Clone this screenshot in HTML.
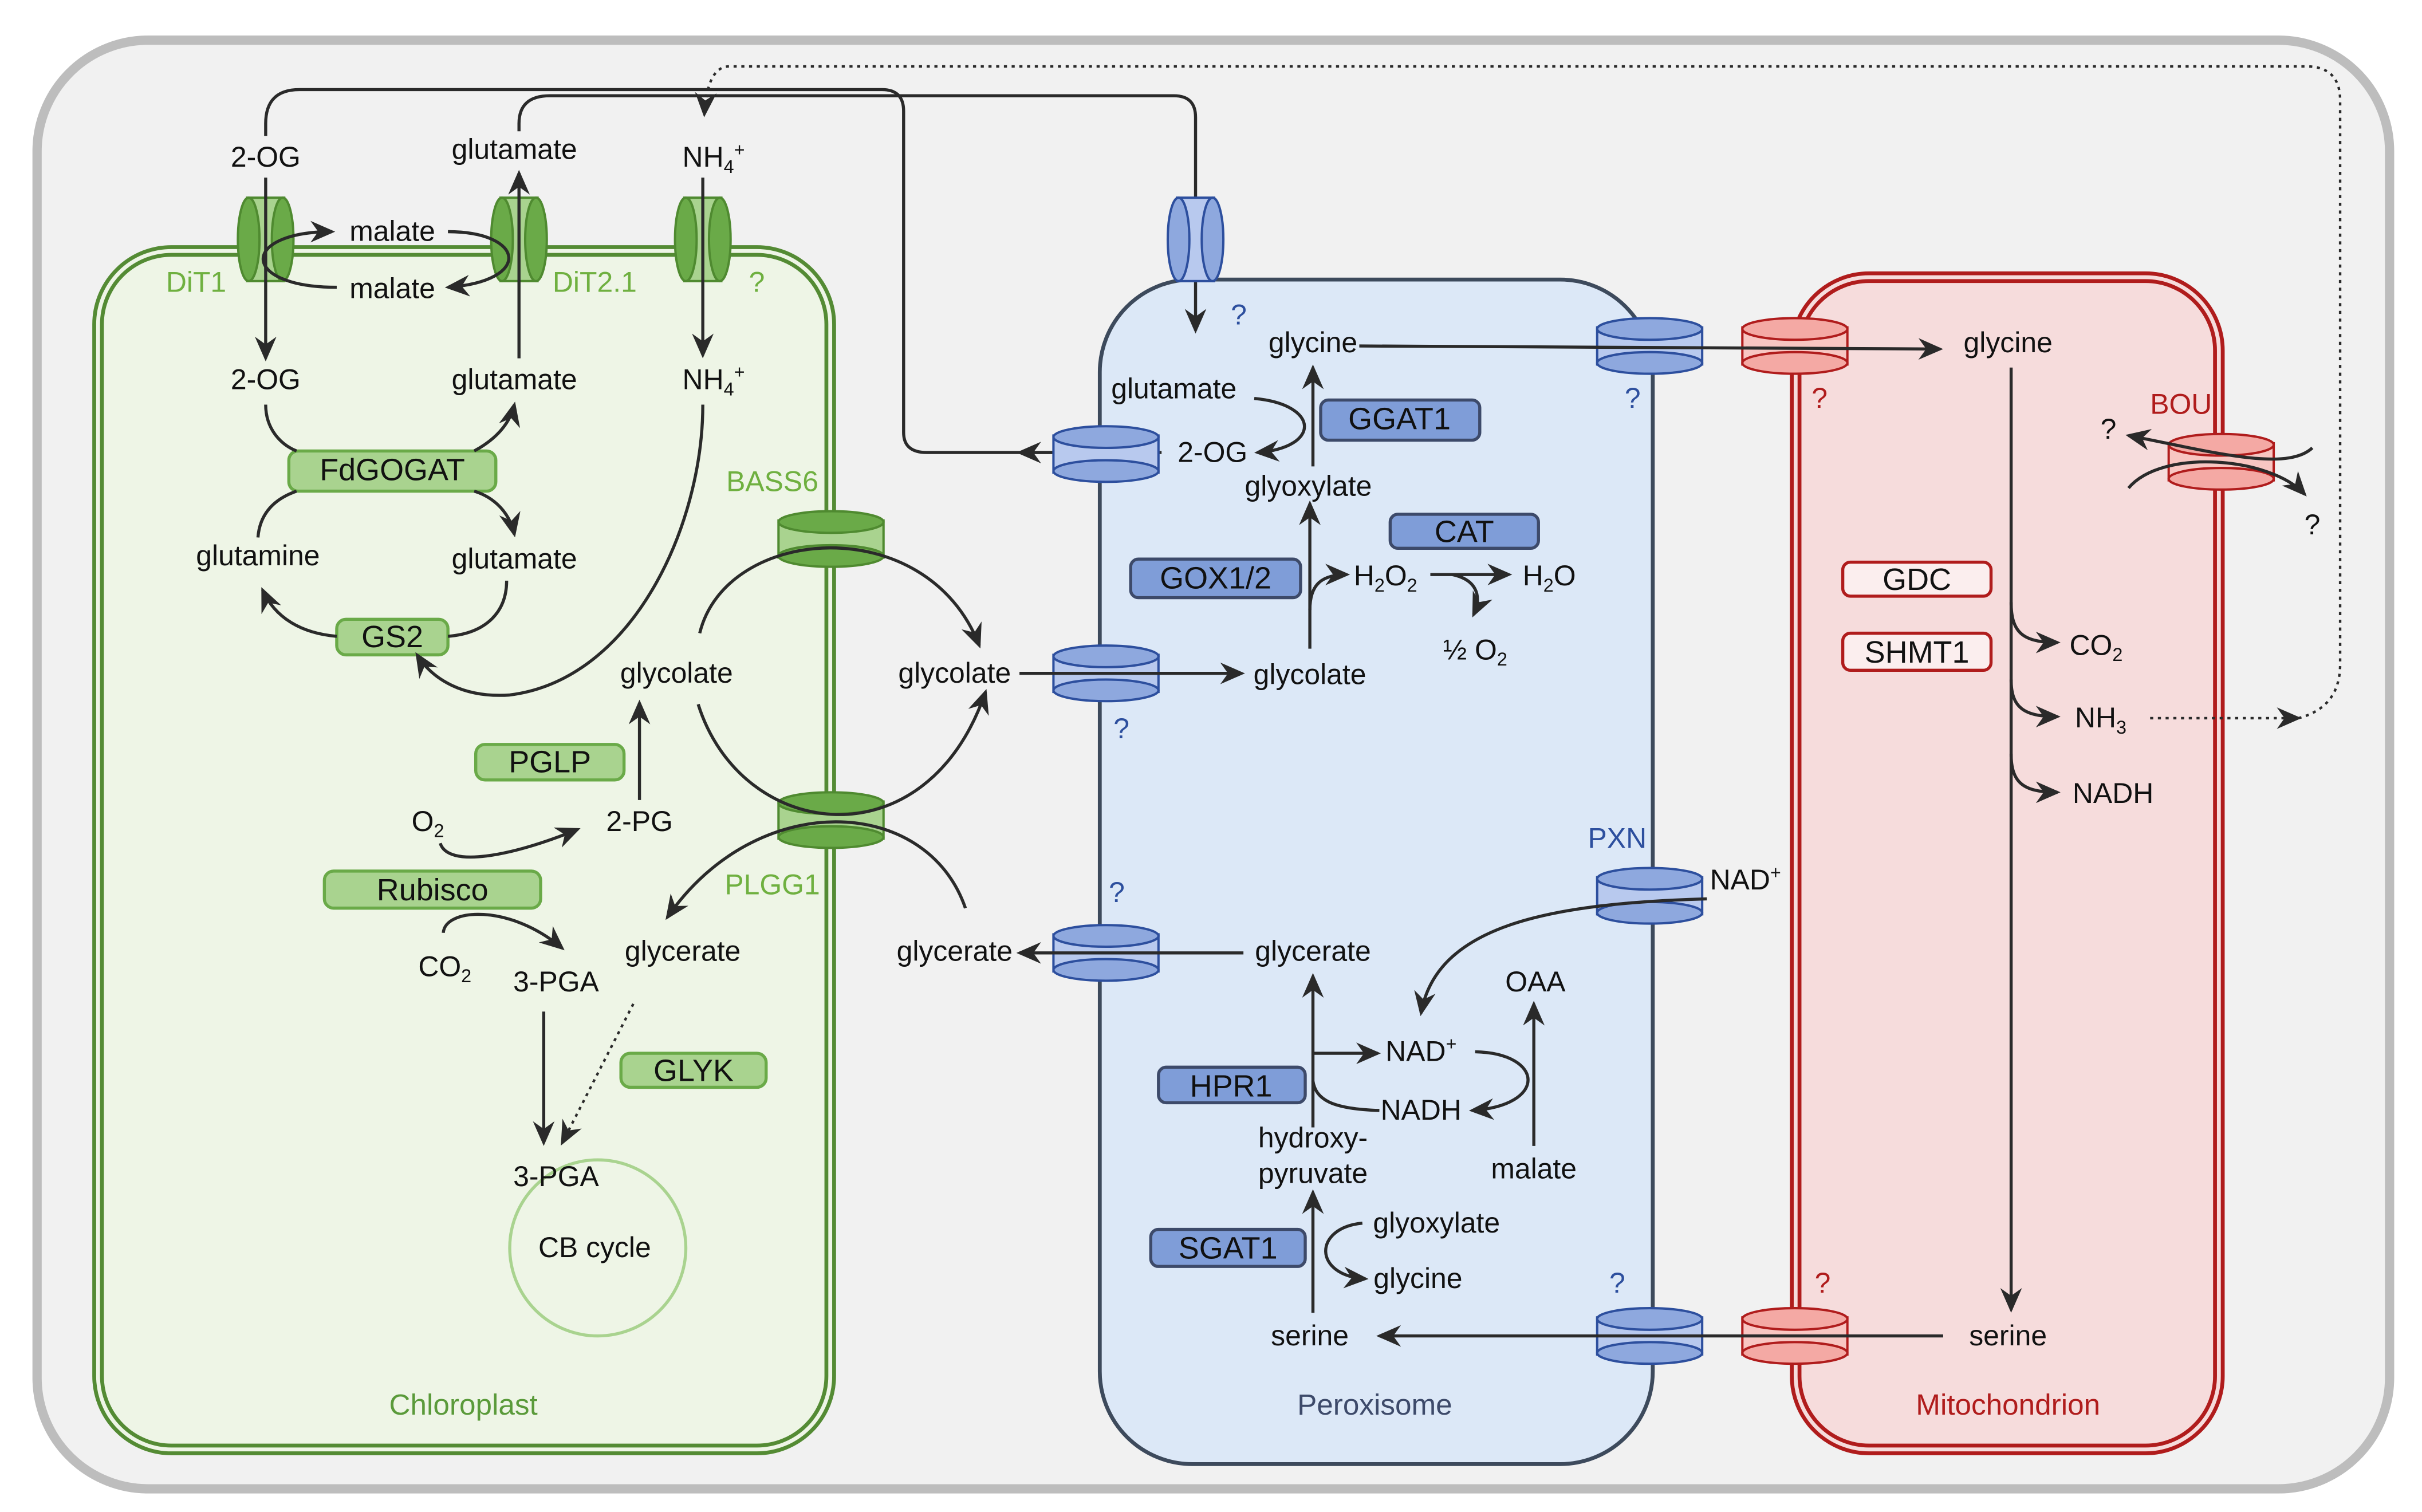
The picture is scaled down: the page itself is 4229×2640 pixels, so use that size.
<!DOCTYPE html>
<html><head><meta charset="utf-8"><style>
html,body{margin:0;padding:0;background:#fff;}
svg{display:block;}
text{font-family:"Liberation Sans",Arial,sans-serif;font-size:18.5px;fill:#111;text-anchor:middle;}
.b{font-size:20px;}
.g{fill:#6fb040;}
.bl{fill:#2d4f9e;}
.r{fill:#b01c1c;}
.l{fill:none;stroke:#2a2a2a;stroke-width:2;}
</style></head><body>
<svg width="4229" height="2640" viewBox="0 0 1568 979" preserveAspectRatio="none" xmlns="http://www.w3.org/2000/svg">
<defs>
<marker id="a" markerUnits="userSpaceOnUse" markerWidth="18" markerHeight="14" refX="14" refY="7" orient="auto">
<path d="M0,0 L16,7 L0,14 L5,7 z" fill="#2a2a2a"/></marker>
<g id="tg"><rect x="-12" y="-27" width="24" height="54" fill="#a9d38f" stroke="#4f8a30" stroke-width="1.5"/><ellipse cx="-11" cy="0" rx="7" ry="27" fill="#6aaa48" stroke="#4f8a30" stroke-width="1.5"/><ellipse cx="11" cy="0" rx="7" ry="27" fill="#6aaa48" stroke="#4f8a30" stroke-width="1.5"/></g>
<g id="tb"><rect x="-12" y="-27" width="24" height="54" fill="#b8c9ee" stroke="#2d4f9e" stroke-width="1.5"/><ellipse cx="-11" cy="0" rx="7" ry="27" fill="#8ea8de" stroke="#2d4f9e" stroke-width="1.5"/><ellipse cx="11" cy="0" rx="7" ry="27" fill="#8ea8de" stroke="#2d4f9e" stroke-width="1.5"/></g>
<g id="vg"><rect x="-34" y="-12" width="68" height="24" fill="#a9d38f" stroke="#4f8a30" stroke-width="1.5"/><ellipse cx="0" cy="11" rx="34" ry="7" fill="#6aaa48" stroke="#4f8a30" stroke-width="1.5"/><ellipse cx="0" cy="-11" rx="34" ry="7" fill="#6aaa48" stroke="#4f8a30" stroke-width="1.5"/></g>
<g id="vb"><rect x="-34" y="-12" width="68" height="24" fill="#b8c9ee" stroke="#2d4f9e" stroke-width="1.5"/><ellipse cx="0" cy="11" rx="34" ry="7" fill="#8ea8de" stroke="#2d4f9e" stroke-width="1.5"/><ellipse cx="0" cy="-11" rx="34" ry="7" fill="#8ea8de" stroke="#2d4f9e" stroke-width="1.5"/></g>
<g id="vr"><rect x="-34" y="-12" width="68" height="24" fill="#f8c6c2" stroke="#b01c1c" stroke-width="1.5"/><ellipse cx="0" cy="11" rx="34" ry="7" fill="#f4a9a4" stroke="#b01c1c" stroke-width="1.5"/><ellipse cx="0" cy="-11" rx="34" ry="7" fill="#f4a9a4" stroke="#b01c1c" stroke-width="1.5"/></g>
</defs>
<rect width="1568" height="979" fill="#fff"/>
<rect x="24" y="26" width="1523" height="938" rx="72" fill="#f1f1f1" stroke="#bdbdbd" stroke-width="6"/>
<rect x="61" y="160" width="479" height="781" rx="50" fill="#eef5e6" stroke="#548b34" stroke-width="2.5"/>
<rect x="66" y="165" width="469" height="771" rx="45" fill="none" stroke="#548b34" stroke-width="2.5"/>
<rect x="712" y="181" width="358" height="767" rx="60" fill="#dce8f7" stroke="#3d4a5c" stroke-width="2.5"/>
<rect x="1160" y="177" width="279" height="764" rx="50" fill="#f6dcdc" stroke="#b01c1c" stroke-width="2.5"/>
<rect x="1165" y="182" width="269" height="754" rx="45" fill="none" stroke="#b01c1c" stroke-width="2.5"/>
<text x="300" y="916" class="g" style="fill:#5a9a3a;font-size:19px">Chloroplast</text>
<text x="890" y="916" style="fill:#3d4a6a;font-size:19px">Peroxisome</text>
<text x="1300" y="916" class="r" style="font-size:19px">Mitochondrion</text>

<path class="l" d="M172,88 L172,80 Q172,58 194,58 L571,58 Q585,58 585,72 L585,280 Q585,293 600,293 L690,293"/>
<path class="l" d="M752,293 L660,293" marker-end="url(#a)"/>
<path class="l" d="M336,85 L336,80 Q336,62 356,62 L760,62 Q774,62 774,76 L774,214" marker-end="url(#a)"/>
<path class="l" d="M1392,465 L1488,465" marker-end="url(#a)" stroke-dasharray="2,3" style="stroke-width:1.6"/>
<path class="l" d="M1488,465 Q1515,458 1515,430 L1515,65 Q1515,43 1493,43 L472,43 Q458,43 456,74" marker-end="url(#a)" stroke-dasharray="2,3" style="stroke-width:1.6"/>

<use href="#tg" x="172" y="155"/>
<use href="#tg" x="336" y="155"/>
<use href="#tg" x="455" y="155"/>
<use href="#vg" x="538" y="349"/>
<use href="#vg" x="538" y="531"/>
<text x="127" y="189" class="g">DiT1</text>
<text x="385" y="189" class="g">DiT2.1</text>
<text x="490" y="189" class="g">?</text>
<text x="500" y="318" class="g">BASS6</text>
<text x="500" y="579" class="g">PLGG1</text>

<text x="172" y="108">2-OG</text>
<text x="333" y="103">glutamate</text>
<text x="462" y="108">NH<tspan font-size="12" dy="4">4</tspan><tspan font-size="12" dy="-11">+</tspan></text>
<path class="l" d="M172,115 L172,232" marker-end="url(#a)"/>
<path class="l" d="M336,232 L336,112" marker-end="url(#a)"/>
<path class="l" d="M455,115 L455,230" marker-end="url(#a)"/>
<text x="254" y="156">malate</text>
<text x="254" y="193">malate</text>
<path class="l" d="M218,186 C155,186 155,150 215,150" marker-end="url(#a)"/>
<path class="l" d="M290,150 C340,150 345,182 290,186" marker-end="url(#a)"/>
<text x="172" y="252">2-OG</text>
<text x="333" y="252">glutamate</text>
<text x="462" y="252">NH<tspan font-size="12" dy="4">4</tspan><tspan font-size="12" dy="-11">+</tspan></text>
<rect x="187" y="292" width="134" height="26" rx="6" fill="#a9d38f" stroke="#6aaa48" stroke-width="2"/>
<text x="254" y="311" class="b">FdGOGAT</text>
<path class="l" d="M172,262 C172,278 182,288 192,292"/>
<path class="l" d="M307,292 C320,285 330,275 333,262" marker-end="url(#a)"/>
<path class="l" d="M307,318 C320,322 330,332 333,346" marker-end="url(#a)"/>
<path class="l" d="M192,318 C175,324 168,335 167,348"/>
<text x="167" y="366">glutamine</text>
<text x="333" y="368">glutamate</text>
<rect x="218" y="401" width="72" height="23" rx="6" fill="#a9d38f" stroke="#6aaa48" stroke-width="2"/>
<text x="254" y="419" class="b">GS2</text>
<path class="l" d="M328,376 C328,396 315,410 290,412"/>
<path class="l" d="M218,412 C195,410 178,400 170,382" marker-end="url(#a)"/>
<path class="l" d="M455,262 C455,340 410,440 330,450 C300,452 280,440 270,424" marker-end="url(#a)"/>

<text x="438" y="442">glycolate</text>
<path class="l" d="M453,410 C470,340 600,330 634,418" marker-end="url(#a)"/>
<path class="l" d="M452,456 C480,545 600,560 638,448" marker-end="url(#a)"/>
<path class="l" d="M625,588 C600,515 490,510 432,594" marker-end="url(#a)"/>
<rect x="308" y="482" width="96" height="23" rx="6" fill="#a9d38f" stroke="#6aaa48" stroke-width="2"/>
<text x="356" y="500" class="b">PGLP</text>
<text x="414" y="538">2-PG</text>
<path class="l" d="M414,518 L414,455" marker-end="url(#a)"/>
<text x="277" y="538">O<tspan font-size="12" dy="4">2</tspan></text>
<path class="l" d="M285,546 C290,562 330,555 374,537" marker-end="url(#a)"/>
<rect x="210" y="564" width="140" height="24" rx="6" fill="#a9d38f" stroke="#6aaa48" stroke-width="2"/>
<text x="280" y="583" class="b">Rubisco</text>
<path class="l" d="M287,604 C288,588 330,585 364,614" marker-end="url(#a)"/>
<text x="288" y="632">CO<tspan font-size="12" dy="4">2</tspan></text>
<text x="360" y="642">3-PGA</text>
<text x="442" y="622">glycerate</text>
<path class="l" d="M352,655 L352,740" marker-end="url(#a)"/>
<path class="l" d="M410,650 L364,740" marker-end="url(#a)" stroke-dasharray="2,3" style="stroke-width:1.6"/>
<rect x="402" y="682" width="94" height="22" rx="6" fill="#a9d38f" stroke="#6aaa48" stroke-width="2"/>
<text x="449" y="700" class="b">GLYK</text>
<circle cx="387" cy="808" r="57" fill="none" stroke="#a9d38f" stroke-width="2"/>
<text x="360" y="768">3-PGA</text>
<text x="385" y="814">CB cycle</text>

<use href="#tb" x="774" y="155"/>
<text x="802" y="210" class="bl">?</text>
<use href="#vb" x="716" y="294"/>
<use href="#vb" x="716" y="436"/>
<use href="#vb" x="716" y="617"/>
<use href="#vb" x="1068" y="224"/>
<use href="#vr" x="1162" y="224"/>
<use href="#vb" x="1068" y="580"/>
<use href="#vb" x="1068" y="865"/>
<use href="#vr" x="1162" y="865"/>
<use href="#vr" x="1438" y="299"/>
<text x="850" y="228">glycine</text>
<text x="760" y="258">glutamate</text>
<text x="785" y="299">2-OG</text>
<text x="847" y="321">glyoxylate</text>
<rect x="855" y="259" width="103" height="26" rx="5" fill="#7f9dd8" stroke="#3d4a6a" stroke-width="2"/>
<text x="906" y="278" class="b">GGAT1</text>
<path class="l" d="M850,302 L850,238" marker-end="url(#a)"/>
<path class="l" d="M812,258 C855,262 855,290 814,293" marker-end="url(#a)"/>
<path class="l" d="M880,224 L1256,226" marker-end="url(#a)"/>
<text x="1057" y="264" class="bl">?</text>
<text x="1178" y="264" class="r">?</text>
<rect x="900" y="333" width="96" height="22" rx="5" fill="#7f9dd8" stroke="#3d4a6a" stroke-width="2"/>
<text x="948" y="351" class="b">CAT</text>
<rect x="732" y="362" width="110" height="25" rx="5" fill="#7f9dd8" stroke="#3d4a6a" stroke-width="2"/>
<text x="787" y="381" class="b">GOX1/2</text>
<path class="l" d="M848,420 L848,326" marker-end="url(#a)"/>
<path class="l" d="M848,395 C848,378 856,372 872,372" marker-end="url(#a)"/>
<text x="897" y="379">H<tspan font-size="12" dy="4">2</tspan><tspan dy="-4">O</tspan><tspan font-size="12" dy="4">2</tspan></text>
<text x="1003" y="379">H<tspan font-size="12" dy="4">2</tspan><tspan dy="-4">O</tspan></text>
<path class="l" d="M926,372 L977,372" marker-end="url(#a)"/>
<path class="l" d="M940,372 C955,375 960,385 954,398" marker-end="url(#a)"/>
<text x="955" y="427">½ O<tspan font-size="12" dy="4">2</tspan></text>
<text x="618" y="442">glycolate</text>
<path class="l" d="M660,436 L804,436" marker-end="url(#a)"/>
<text x="848" y="443">glycolate</text>
<text x="726" y="478" class="bl">?</text>
<text x="723" y="584" class="bl">?</text>
<text x="618" y="622">glycerate</text>
<path class="l" d="M805,617 L660,617" marker-end="url(#a)"/>
<text x="850" y="622">glycerate</text>
<text x="1047" y="549" class="bl">PXN</text>
<text x="1130" y="576">NAD<tspan font-size="12" dy="-7">+</tspan></text>
<path class="l" d="M1105,582 C1000,585 930,600 920,656" marker-end="url(#a)"/>
<text x="994" y="642">OAA</text>
<path class="l" d="M993,742 L993,650" marker-end="url(#a)"/>
<text x="993" y="763">malate</text>
<path class="l" d="M850,730 L850,632" marker-end="url(#a)"/>
<rect x="750" y="691" width="95" height="23" rx="5" fill="#7f9dd8" stroke="#3d4a6a" stroke-width="2"/>
<text x="797" y="710" class="b">HPR1</text>
<path class="l" d="M850,682 L892,682" marker-end="url(#a)"/>
<text x="920" y="687">NAD<tspan font-size="12" dy="-7">+</tspan></text>
<path class="l" d="M850,700 C852,712 862,718 893,719"/>
<text x="920" y="725">NADH</text>
<path class="l" d="M955,681 C1000,682 1002,716 953,719" marker-end="url(#a)"/>
<text x="850" y="743">hydroxy-</text>
<text x="850" y="766">pyruvate</text>
<path class="l" d="M850,850 L850,772" marker-end="url(#a)"/>
<rect x="745" y="796" width="100" height="24" rx="5" fill="#7f9dd8" stroke="#3d4a6a" stroke-width="2"/>
<text x="795" y="815" class="b">SGAT1</text>
<text x="930" y="798">glyoxylate</text>
<text x="918" y="834">glycine</text>
<path class="l" d="M882,792 C850,795 850,826 884,828" marker-end="url(#a)"/>
<text x="848" y="871">serine</text>
<path class="l" d="M1258,865 L893,865" marker-end="url(#a)"/>
<text x="1047" y="837" class="bl">?</text>
<text x="1180" y="837" class="r">?</text>

<text x="1300" y="228">glycine</text>
<path class="l" d="M1302,238 L1302,848" marker-end="url(#a)"/>
<text x="1300" y="871">serine</text>
<rect x="1193" y="364" width="96" height="22" rx="5" fill="#fbeeee" stroke="#b01c1c" stroke-width="2"/>
<text x="1241" y="382" class="b">GDC</text>
<rect x="1193" y="410" width="96" height="24" rx="5" fill="#fbeeee" stroke="#b01c1c" stroke-width="2"/>
<text x="1241" y="429" class="b">SHMT1</text>
<path class="l" d="M1302,390 C1302,410 1310,416 1332,416" marker-end="url(#a)"/>
<path class="l" d="M1302,440 C1302,458 1310,464 1332,464" marker-end="url(#a)"/>
<path class="l" d="M1302,488 C1302,507 1310,513 1332,513" marker-end="url(#a)"/>
<text x="1357" y="424">CO<tspan font-size="12" dy="4">2</tspan></text>
<text x="1360" y="471">NH<tspan font-size="12" dy="4">3</tspan></text>
<text x="1368" y="520">NADH</text>
<text x="1412" y="268" class="r">BOU</text>
<text x="1365" y="284">?</text>
<text x="1497" y="346">?</text>
<path class="l" d="M1497,290 C1480,306 1430,292 1378,282" marker-end="url(#a)"/>
<path class="l" d="M1378,316 C1400,290 1470,296 1492,320" marker-end="url(#a)"/>
</svg>
</body></html>
